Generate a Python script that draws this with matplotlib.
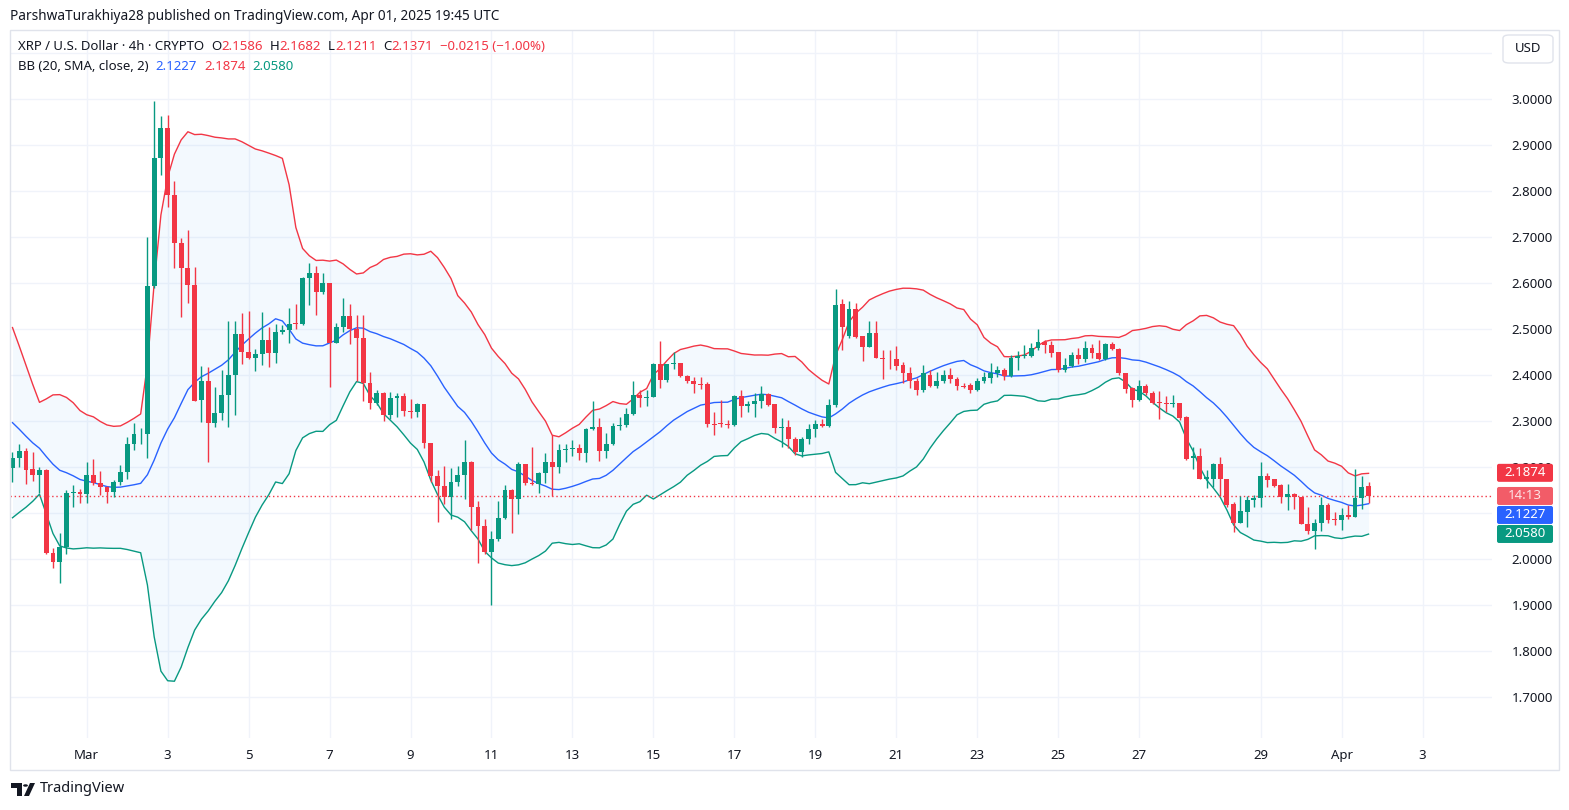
import matplotlib
matplotlib.use("Agg")
import matplotlib.pyplot as plt
import matplotlib.transforms as mtransforms
from matplotlib.patches import Rectangle, FancyBboxPatch, Polygon, Circle
import numpy as np
import pandas as pd

UP = '#089981'
DOWN = '#F23645'
BLUE = '#2962FF'
TEXT = '#131722'
GRID = '#f0f3fa'
BORDER = '#e0e3eb'

# XRP/USD 4h candles, first bar Feb 27 04:00 UTC, last bar Apr 01 16:00 UTC
opens = [2.197, 2.219, 2.235, 2.196, 2.183, 2.194, 2.014, 1.994, 2.027, 2.143,
         2.145, 2.141, 2.183, 2.165, 2.157, 2.146, 2.167, 2.190, 2.251, 2.271,
         2.272, 2.593, 2.871, 2.936, 2.791, 2.688, 2.632, 2.596, 2.346, 2.387,
         2.295, 2.317, 2.356, 2.400, 2.490, 2.451, 2.436, 2.445, 2.477, 2.447,
         2.494, 2.498, 2.512, 2.511, 2.610, 2.621, 2.581, 2.599, 2.469, 2.504,
         2.528, 2.501, 2.480, 2.383, 2.340, 2.360, 2.313, 2.349, 2.354, 2.322,
         2.320, 2.337, 2.253, 2.181, 2.159, 2.134, 2.167, 2.182, 2.210, 2.114,
         2.072, 2.016, 2.043, 2.090, 2.151, 2.130, 2.206, 2.166, 2.163, 2.186,
         2.212, 2.201, 2.237, 2.240, 2.241, 2.231, 2.283, 2.288, 2.235, 2.250,
         2.289, 2.291, 2.315, 2.357, 2.351, 2.353, 2.425, 2.389, 2.425, 2.426,
         2.398, 2.387, 2.380, 2.380, 2.293, 2.294, 2.293, 2.292, 2.354, 2.333,
         2.337, 2.344, 2.359, 2.337, 2.284, 2.288, 2.260, 2.233, 2.260, 2.282,
         2.293, 2.290, 2.335, 2.554, 2.485, 2.543, 2.485, 2.462, 2.492, 2.438,
         2.435, 2.435, 2.422, 2.405, 2.387, 2.367, 2.400, 2.376, 2.386, 2.400,
         2.391, 2.377, 2.378, 2.367, 2.386, 2.393, 2.405, 2.411, 2.398, 2.436,
         2.442, 2.442, 2.458, 2.472, 2.465, 2.449, 2.412, 2.420, 2.443, 2.435,
         2.458, 2.447, 2.434, 2.467, 2.456, 2.404, 2.371, 2.346, 2.376, 2.362,
         2.342, 2.340, 2.337, 2.340, 2.309, 2.219, 2.225, 2.175, 2.175, 2.206,
         2.173, 2.120, 2.079, 2.103, 2.128, 2.132, 2.181, 2.174, 2.161, 2.134,
         2.141, 2.134, 2.077, 2.062, 2.079, 2.117, 2.087, 2.085, 2.096, 2.092,
         2.132, 2.1586]
highs = [2.233, 2.251, 2.241, 2.233, 2.201, 2.196, 2.023, 2.056, 2.151, 2.161,
         2.153, 2.212, 2.217, 2.191, 2.159, 2.172, 2.204, 2.266, 2.295, 2.284,
         2.699, 2.996, 2.962, 2.965, 2.822, 2.697, 2.715, 2.635, 2.420, 2.417,
         2.373, 2.411, 2.518, 2.518, 2.535, 2.539, 2.456, 2.536, 2.505, 2.512,
         2.509, 2.545, 2.554, 2.614, 2.643, 2.637, 2.622, 2.599, 2.514, 2.567,
         2.554, 2.530, 2.530, 2.407, 2.367, 2.364, 2.364, 2.360, 2.360, 2.347,
         2.340, 2.337, 2.253, 2.193, 2.202, 2.197, 2.203, 2.259, 2.213, 2.126,
         2.088, 2.061, 2.126, 2.161, 2.153, 2.210, 2.206, 2.244, 2.190, 2.231,
         2.270, 2.251, 2.251, 2.259, 2.251, 2.284, 2.344, 2.306, 2.273, 2.295,
         2.309, 2.328, 2.387, 2.367, 2.367, 2.427, 2.474, 2.425, 2.451, 2.426,
         2.400, 2.396, 2.395, 2.385, 2.319, 2.346, 2.303, 2.356, 2.367, 2.344,
         2.360, 2.376, 2.360, 2.337, 2.306, 2.302, 2.266, 2.266, 2.293, 2.302,
         2.304, 2.347, 2.586, 2.565, 2.561, 2.557, 2.485, 2.517, 2.517, 2.454,
         2.454, 2.463, 2.429, 2.417, 2.393, 2.422, 2.411, 2.407, 2.411, 2.415,
         2.396, 2.383, 2.382, 2.393, 2.407, 2.427, 2.420, 2.415, 2.444, 2.453,
         2.465, 2.469, 2.501, 2.476, 2.475, 2.449, 2.436, 2.451, 2.458, 2.475,
         2.467, 2.477, 2.469, 2.471, 2.458, 2.404, 2.375, 2.389, 2.380, 2.366,
         2.366, 2.354, 2.356, 2.340, 2.311, 2.243, 2.241, 2.193, 2.208, 2.222,
         2.175, 2.125, 2.136, 2.136, 2.139, 2.212, 2.186, 2.174, 2.164, 2.164,
         2.143, 2.135, 2.114, 2.088, 2.135, 2.121, 2.103, 2.112, 2.117, 2.195,
         2.180, 2.1682]
lows = [2.168, 2.199, 2.164, 2.170, 2.143, 2.010, 1.981, 1.949, 2.010, 2.114,
        2.121, 2.121, 2.162, 2.140, 2.121, 2.135, 2.161, 2.175, 2.237, 2.251,
        2.219, 2.590, 2.835, 2.766, 2.632, 2.527, 2.557, 2.343, 2.298, 2.212,
        2.286, 2.302, 2.288, 2.313, 2.425, 2.434, 2.409, 2.422, 2.418, 2.427,
        2.489, 2.470, 2.500, 2.509, 2.552, 2.530, 2.577, 2.375, 2.469, 2.494,
        2.467, 2.386, 2.343, 2.327, 2.335, 2.301, 2.304, 2.309, 2.311, 2.306,
        2.309, 2.241, 2.168, 2.081, 2.120, 2.086, 2.159, 2.130, 2.064, 1.992,
        2.010, 1.900, 2.040, 2.087, 2.056, 2.099, 2.162, 2.161, 2.143, 2.166,
        2.136, 2.188, 2.212, 2.224, 2.215, 2.212, 2.281, 2.214, 2.219, 2.248,
        2.281, 2.288, 2.313, 2.331, 2.333, 2.352, 2.372, 2.384, 2.413, 2.395,
        2.383, 2.362, 2.369, 2.288, 2.270, 2.286, 2.284, 2.290, 2.308, 2.320,
        2.308, 2.329, 2.333, 2.275, 2.244, 2.241, 2.226, 2.222, 2.250, 2.266,
        2.286, 2.288, 2.331, 2.454, 2.480, 2.480, 2.431, 2.460, 2.438, 2.391,
        2.414, 2.412, 2.383, 2.371, 2.356, 2.364, 2.373, 2.371, 2.382, 2.382,
        2.367, 2.371, 2.360, 2.366, 2.382, 2.382, 2.396, 2.389, 2.395, 2.411,
        2.438, 2.440, 2.454, 2.447, 2.440, 2.407, 2.407, 2.417, 2.425, 2.429,
        2.436, 2.433, 2.433, 2.454, 2.400, 2.360, 2.330, 2.344, 2.357, 2.338,
        2.304, 2.320, 2.330, 2.302, 2.215, 2.195, 2.175, 2.154, 2.157, 2.136,
        2.114, 2.059, 2.078, 2.070, 2.114, 2.114, 2.157, 2.157, 2.122, 2.107,
        2.108, 2.077, 2.054, 2.021, 2.062, 2.079, 2.074, 2.063, 2.088, 2.091,
        2.108, 2.1211]
closes = [2.219, 2.235, 2.194, 2.183, 2.194, 2.014, 1.994, 2.027, 2.143, 2.145,
          2.141, 2.183, 2.165, 2.157, 2.146, 2.167, 2.190, 2.251, 2.271, 2.272,
          2.593, 2.871, 2.936, 2.791, 2.688, 2.632, 2.596, 2.344, 2.387, 2.295,
          2.317, 2.356, 2.400, 2.490, 2.451, 2.436, 2.445, 2.477, 2.447, 2.494,
          2.498, 2.512, 2.511, 2.610, 2.621, 2.581, 2.599, 2.469, 2.504, 2.528,
          2.501, 2.480, 2.383, 2.340, 2.360, 2.313, 2.349, 2.354, 2.322, 2.320,
          2.337, 2.253, 2.181, 2.159, 2.134, 2.167, 2.182, 2.210, 2.114, 2.072,
          2.016, 2.043, 2.090, 2.151, 2.130, 2.206, 2.166, 2.163, 2.186, 2.212,
          2.201, 2.237, 2.240, 2.241, 2.231, 2.283, 2.288, 2.235, 2.250, 2.289,
          2.291, 2.315, 2.357, 2.351, 2.353, 2.425, 2.389, 2.425, 2.426, 2.398,
          2.387, 2.380, 2.378, 2.293, 2.292, 2.293, 2.292, 2.354, 2.333, 2.337,
          2.344, 2.359, 2.335, 2.284, 2.288, 2.260, 2.233, 2.260, 2.282, 2.293,
          2.290, 2.335, 2.552, 2.505, 2.543, 2.483, 2.462, 2.492, 2.438, 2.435,
          2.434, 2.420, 2.405, 2.387, 2.367, 2.404, 2.376, 2.387, 2.400, 2.391,
          2.376, 2.375, 2.367, 2.387, 2.395, 2.405, 2.411, 2.398, 2.436, 2.442,
          2.444, 2.458, 2.472, 2.465, 2.448, 2.412, 2.422, 2.443, 2.435, 2.458,
          2.447, 2.434, 2.467, 2.456, 2.404, 2.370, 2.346, 2.376, 2.362, 2.340,
          2.340, 2.338, 2.340, 2.306, 2.217, 2.225, 2.175, 2.179, 2.206, 2.173,
          2.117, 2.079, 2.105, 2.128, 2.133, 2.181, 2.172, 2.159, 2.134, 2.141,
          2.134, 2.077, 2.062, 2.079, 2.117, 2.085, 2.085, 2.096, 2.091, 2.132,
          2.157, 2.1371]
# closes of the 19 bars before the first visible one (only used to warm up the BB)
closes_before = [2.52, 2.50, 2.47, 2.43, 2.37, 2.33, 2.29, 2.25, 2.28, 2.30,
                 2.26, 2.22, 2.25, 2.23, 2.20, 2.18, 2.20, 2.22, 2.21]

# values printed in the legend / price scale (basis, upper, lower)
bb_last = [2.1227, 2.1874, 2.0580]

day_ticks = [11, 23, 35, 47, 59, 71, 83, 95, 107, 119, 131, 143, 155, 167, 185, 197, 209]
day_labels = ['Mar', '3', '5', '7', '9', '11', '13', '15', '17', '19', '21', '23',
              '25', '27', '29', 'Apr', '3']
price_ticks = [1.7, 1.8, 1.9, 2.0, 2.1, 2.2, 2.3, 2.4, 2.5, 2.6, 2.7, 2.8, 2.9, 3.0, 3.1]

# Bollinger Bands (20, SMA, close, 2)
allc = pd.Series(closes_before + closes)
n0 = len(closes_before)
basis = allc.rolling(20).mean().to_numpy()[n0:]
dev = allc.rolling(20).std(ddof=0).to_numpy()[n0:]
upper = basis + 2 * dev
lower = basis - 2 * dev

plt.rcParams['font.family'] = ['Noto Sans', 'DejaVu Sans']

W, H = 1569, 810
fig = plt.figure(figsize=(W / 100, H / 100), dpi=100)
ax = fig.add_axes([10 / W, 1 - 738 / H, (1492 - 10) / W, (738 - 30) / H])


def fx(x):
    return x / W


def fy(y):
    return 1 - y / H


x = np.arange(len(closes))
o = np.array(opens)
hi = np.array(highs)
lo = np.array(lows)
c = np.array(closes)

ax.fill_between(x, lower, upper, color='#2196F3', alpha=0.05, lw=0, zorder=1)
ax.plot(x, upper, color=DOWN, lw=1, zorder=2)
ax.plot(x, basis, color=BLUE, lw=1, zorder=2)
ax.plot(x, lower, color=UP, lw=1, zorder=2)

cols = np.where(c >= o, UP, DOWN)
ax.vlines(x, lo, hi, colors=cols, lw=1, zorder=3)
ax.bar(x, np.maximum(np.abs(c - o), 0.0018), bottom=np.minimum(o, c),
       width=0.72, color=cols, lw=0, zorder=4)

# last price line
ax.axhline(closes[-1], color=DOWN, lw=1, ls=(0, (1, 2)), zorder=2)

ax.set_xlim(-0.37, 219.3)
ax.set_ylim(1.611, 3.15)
ax.yaxis.tick_right()
ax.set_yticks(price_ticks)
ax.set_yticklabels([f'{p:.4f}' if p < 3.05 else '' for p in price_ticks])
ax.tick_params(axis='y', length=0, pad=14, labelsize=9.5, labelcolor=TEXT)
ax.set_xticks(day_ticks)
ax.set_xticklabels(day_labels)
ax.tick_params(axis='x', length=0, pad=8, labelsize=9.5, labelcolor=TEXT)
for t in ax.get_xticklabels():
    if t.get_text() in ('Mar', 'Apr'):
        t.set_fontweight('bold')
ax.grid(color=GRID, lw=1, zorder=0)
ax.set_axisbelow(True)
for s in ax.spines.values():
    s.set_visible(False)

# outer frame
fig.add_artist(Rectangle((fx(10), fy(770)), fx(1559) - fx(10), fy(30) - fy(770),
                         transform=fig.transFigure, fill=False, ec=BORDER, lw=1))

# price scale labels (pushed down when they overlap)
ident = mtransforms.IdentityTransform()
boxes = [(bb_last[1], f'{bb_last[1]:.4f}', DOWN, 'white'),
         (closes[-1], '14:13', '#f25c68', '#fde3e5'),
         (bb_last[0], f'{bb_last[0]:.4f}', BLUE, 'white'),
         (bb_last[2], f'{bb_last[2]:.4f}', UP, 'white')]
prev = None
for val, lab, fc, tc in boxes:
    yd = ax.transData.transform((0, val))[1]
    if prev is not None and yd > prev - 19:
        yd = prev - 19
    prev = yd
    fig.add_artist(FancyBboxPatch((1497, yd - 9), 56, 18, boxstyle='round,pad=0,rounding_size=2',
                                  transform=ident, fc=fc, ec='none', zorder=20))
    fig.text(1525 / W, yd / H, lab, ha='center', va='center', fontsize=9.5,
             fontweight='bold', color=tc, zorder=21)

# USD button
fig.add_artist(FancyBboxPatch((fx(1503), fy(63)), fx(1553) - fx(1503), fy(35) - fy(63),
                              boxstyle='round,pad=0,rounding_size=0.004',
                              transform=fig.transFigure, fc='white', ec=BORDER, lw=1))
fig.text(fx(1528), fy(49), 'USD', ha='center', va='center', fontsize=9.5, color=TEXT)

# header and legend
fig.text(fx(10), fy(17), 'ParshwaTurakhiya28 published on TradingView.com, Apr 01, 2025 19:45 UTC',
         ha='left', va='center', fontsize=9.8, color=TEXT)

renderer = fig.canvas.get_renderer()


def text_run(x0, y0, parts, size=9.5):
    xx = x0
    for s, col, gap in parts:
        t = fig.text(fx(xx), fy(y0), s, ha='left', va='center', fontsize=size, color=col)
        xx += t.get_window_extent(renderer=renderer).width + gap


text_run(18, 47, [('XRP / U.S. Dollar · 4h · CRYPTO', TEXT, 7),
                  ('O', TEXT, 0), ('2.1586', DOWN, 7),
                  ('H', TEXT, 0), ('2.1682', DOWN, 7),
                  ('L', TEXT, 0), ('2.1211', DOWN, 7),
                  ('C', TEXT, 0), ('2.1371', DOWN, 7),
                  ('−0.0215 (−1.00%)', DOWN, 0)])
text_run(18, 66, [('BB (20, SMA, close, 2)', TEXT, 7),
                  (f'{bb_last[0]:.4f}', BLUE, 7),
                  (f'{bb_last[1]:.4f}', DOWN, 7),
                  (f'{bb_last[2]:.4f}', UP, 0)])

# footer logo
fig.add_artist(Polygon([(fx(11), fy(783)), (fx(22), fy(783)), (fx(22), fy(796)),
                        (fx(17), fy(796)), (fx(17), fy(788)), (fx(11), fy(788))],
                       closed=True, transform=fig.transFigure, fc=TEXT, ec='none'))
fig.add_artist(Circle((fx(25.5), fy(785.5)), 2.4 / W, transform=fig.transFigure, fc=TEXT, ec='none'))
fig.add_artist(Polygon([(fx(30), fy(783)), (fx(35), fy(783)), (fx(29), fy(796)), (fx(24), fy(796))],
                       closed=True, transform=fig.transFigure, fc=TEXT, ec='none'))
fig.text(fx(40), fy(789), 'TradingView', ha='left', va='center', fontsize=10.5, color=TEXT)

fig.savefig('out.png', dpi=100)
